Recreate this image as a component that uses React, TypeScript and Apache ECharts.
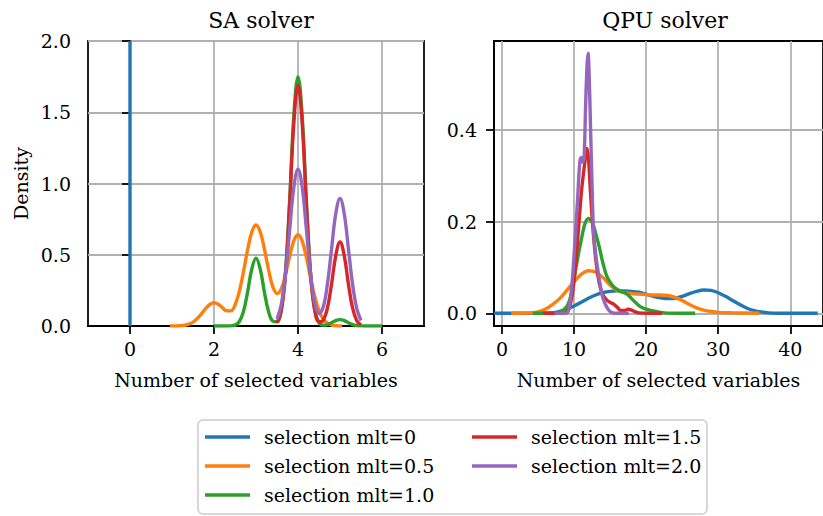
import React, { useEffect, useRef } from "react";
import * as echarts from "echarts";

const FONT = '"DejaVu Serif", serif';
const BASE = 19;

const seriesNames = [
  "selection mlt=0",
  "selection mlt=0.5",
  "selection mlt=1.0",
  "selection mlt=1.5",
  "selection mlt=2.0",
];
const colors = ["#1f77b4", "#ff7f0e", "#2ca02c", "#d62728", "#9467bd"];

const saXTicks = [0, 2, 4, 6];
const qpuXTicks = [0, 10, 20, 30, 40];
const qpuYTicks = [0, 0.2, 0.4];

// SA solver densities
const saMlt0: [number, number][] = [[0, 0], [0, 2.0]];
const saMlt05: [number, number][] = [
  [0.95, 0], [1.2, 0.002], [1.3, 0.005], [1.4, 0.013], [1.5, 0.027], [1.6, 0.052], [1.7, 0.085],
  [1.8, 0.122], [1.9, 0.151], [2.0, 0.163], [2.1, 0.153], [2.2, 0.129], [2.3, 0.107], [2.4, 0.106],
  [2.5, 0.147], [2.6, 0.239], [2.7, 0.378], [2.8, 0.534], [2.9, 0.659], [3.0, 0.709], [3.1, 0.661],
  [3.2, 0.539], [3.3, 0.393], [3.4, 0.276], [3.5, 0.228], [3.6, 0.259], [3.7, 0.359], [3.8, 0.489],
  [3.9, 0.598], [4.0, 0.64], [4.1, 0.596], [4.2, 0.481], [4.3, 0.337], [4.4, 0.205], [4.5, 0.108],
  [4.6, 0.049], [4.7, 0.02], [4.8, 0.007], [4.9, 0.002], [5.05, 0],
];
const saMlt10: [number, number][] = [
  [2.0, 0], [2.3, 0], [2.4, 0.001], [2.5, 0.006], [2.6, 0.03], [2.7, 0.1], [2.8, 0.238], [2.9, 0.4],
  [3.0, 0.475], [3.1, 0.4], [3.2, 0.238], [3.3, 0.1], [3.4, 0.034], [3.5, 0.029], [3.6, 0.111],
  [3.7, 0.369], [3.8, 0.875], [3.9, 1.472], [4.0, 1.75], [4.1, 1.472], [4.2, 0.875], [4.3, 0.369],
  [4.4, 0.11], [4.5, 0.024], [4.6, 0.006], [4.7, 0.01], [4.8, 0.023], [4.9, 0.038], [5.0, 0.045],
  [5.1, 0.038], [5.2, 0.023], [5.3, 0.01], [5.4, 0.003], [5.5, 0.001], [5.6, 0], [6.0, 0],
];
const saMlt15: [number, number][] = [
  [3.5, 0.022], [3.6, 0.106], [3.7, 0.357], [3.8, 0.845], [3.9, 1.421], [4.0, 1.69], [4.1, 1.421],
  [4.2, 0.845], [4.3, 0.357], [4.4, 0.107], [4.5, 0.03], [4.6, 0.04], [4.7, 0.125], [4.8, 0.295],
  [4.9, 0.496], [5.0, 0.59], [5.1, 0.496], [5.2, 0.295], [5.3, 0.125], [5.4, 0.037], [5.5, 0.008],
];
const saMlt20: [number, number][] = [
  [3.5, 0.048], [3.6, 0.149], [3.7, 0.358], [3.8, 0.668], [3.9, 0.971], [4.0, 1.1], [4.1, 0.973],
  [4.2, 0.678], [4.3, 0.36], [4.4, 0.159], [4.5, 0.087], [4.6, 0.133], [4.7, 0.293], [4.8, 0.543],
  [4.9, 0.79], [5.0, 0.895], [5.1, 0.79], [5.2, 0.543], [5.3, 0.291], [5.4, 0.121], [5.5, 0.039],
];

// QPU solver densities
const qpuMlt0: [number, number][] = [
  [-1.1, 0], [5, 0], [7, 0.001], [8, 0.004], [9, 0.009], [10, 0.016], [11, 0.024], [12, 0.033],
  [13, 0.04], [14, 0.045], [15, 0.048], [16, 0.049], [17, 0.049], [18, 0.048], [19, 0.046],
  [20, 0.042], [21, 0.037], [22, 0.034], [23, 0.032], [24, 0.033], [25, 0.037], [26, 0.043],
  [27, 0.048], [28, 0.051], [29, 0.05], [30, 0.045], [31, 0.037], [32, 0.028], [33, 0.019],
  [34, 0.011], [35, 0.006], [36, 0.003], [37, 0.001], [38, 0], [43.8, 0],
];
const qpuMlt05: [number, number][] = [
  [1.3, 0], [4, 0.001], [5, 0.003], [6, 0.009], [7, 0.019], [8, 0.032], [9, 0.05], [10, 0.069],
  [11, 0.085], [12, 0.093], [13, 0.09], [14, 0.078], [15, 0.062], [16, 0.05], [17, 0.045],
  [18, 0.043], [19, 0.042], [20, 0.041], [21, 0.04], [22, 0.04], [23, 0.039], [24, 0.035],
  [25, 0.028], [26, 0.019], [27, 0.012], [28, 0.007], [29, 0.004], [30, 0.002], [32, 0.001], [35.7, 0],
];
const qpuMlt10: [number, number][] = [
  [4.3, 0], [7, 0], [8, 0.002], [9, 0.015], [9.5, 0.035], [10, 0.075], [10.5, 0.12], [11, 0.16],
  [11.5, 0.195], [12, 0.207], [12.5, 0.2], [13, 0.175], [13.5, 0.145], [14, 0.11], [14.5, 0.083],
  [15, 0.068], [15.5, 0.058], [16, 0.052], [16.5, 0.048], [17, 0.045], [17.5, 0.04], [18, 0.032],
  [18.5, 0.024], [19, 0.017], [19.5, 0.012], [20, 0.009], [21, 0.005], [22, 0.002], [23, 0.0005], [26.8, 0],
];
const qpuMlt15: [number, number][] = [
  [5.7, 0], [8.5, 0], [9, 0.003], [9.5, 0.02], [10, 0.07], [10.5, 0.16], [11, 0.26], [11.5, 0.33],
  [11.8, 0.36], [12, 0.34], [12.3, 0.26], [12.6, 0.19], [13, 0.12], [13.5, 0.065], [14, 0.04],
  [14.5, 0.03], [15, 0.024], [15.5, 0.02], [16, 0.013], [16.5, 0.006], [17, 0.006], [17.5, 0.009],
  [18, 0.007], [18.5, 0.003], [19, 0.001], [20, 0], [22.2, 0],
];
const qpuMlt20: [number, number][] = [
  [7.3, 0], [8.9, 0], [9.3, 0.01], [9.7, 0.06], [10.1, 0.15], [10.5, 0.25], [10.8, 0.33], [11.0, 0.34],
  [11.2, 0.33], [11.4, 0.34], [11.6, 0.45], [11.8, 0.54], [11.95, 0.568], [12.1, 0.52], [12.3, 0.4],
  [12.5, 0.28], [12.7, 0.18], [13.0, 0.13], [13.3, 0.095], [13.6, 0.065], [13.9, 0.04], [14.2, 0.025],
  [14.6, 0.012], [15.0, 0.004], [15.4, 0.001], [16, 0], [17.6, 0],
];

const saData = [saMlt0, saMlt05, saMlt10, saMlt15, saMlt20];
const qpuData = [qpuMlt0, qpuMlt05, qpuMlt10, qpuMlt15, qpuMlt20];

const LW = 1.76;
const textStyle = { fontFamily: FONT, fontSize: BASE, color: "#000" };

function xAxisCfg(grid: number, min: number, max: number, ticks: number[], name: string) {
  return {
    type: "value",
    gridIndex: grid,
    min,
    max,
    name,
    nameLocation: "middle",
    nameGap: 44,
    nameTextStyle: { ...textStyle },
    axisLine: { show: true, onZero: false, lineStyle: { color: "#000", width: LW } },
    axisTick: { show: true, customValues: ticks, length: 8, lineStyle: { color: "#000", width: LW } },
    axisLabel: { customValues: ticks, margin: 13, ...textStyle, formatter: (v: number) => String(v) },
    splitLine: { show: true, lineStyle: { color: "#b0b0b0", width: LW } },
  };
}

export default function App() {
  const ref = useRef<HTMLDivElement>(null);
  useEffect(() => {
    if (!ref.current) return;
    const chart = echarts.init(ref.current, undefined, { renderer: "svg" });
    const series: any[] = [];
    saData.forEach((d, i) => {
      series.push({
        type: "line",
        name: seriesNames[i],
        xAxisIndex: 0,
        yAxisIndex: 0,
        data: d,
        color: colors[i],
        showSymbol: false,
        symbol: "none",
        smooth: 0.4,
        lineStyle: { color: colors[i], width: 3.4 },
      });
    });
    qpuData.forEach((d, i) => {
      series.push({
        type: "line",
        name: seriesNames[i],
        xAxisIndex: 1,
        yAxisIndex: 1,
        data: d,
        color: colors[i],
        showSymbol: false,
        symbol: "none",
        smooth: 0.3,
        lineStyle: { color: colors[i], width: 3.4 },
      });
    });
    chart.setOption({
      animation: false,
      backgroundColor: "#fff",
      title: [
        { text: "SA solver", left: 256, top: 4, textAlign: "center", textStyle: { ...textStyle, fontSize: 22, fontWeight: "normal" } },
        { text: "QPU solver", left: 660, top: 4, textAlign: "center", textStyle: { ...textStyle, fontSize: 22, fontWeight: "normal" } },
      ],
      grid: [
        { left: 88, top: 41, width: 336, height: 285, show: true, borderColor: "#000", borderWidth: LW, containLabel: false },
        { left: 494, top: 41, width: 332, height: 285, show: true, borderColor: "#000", borderWidth: LW, containLabel: false },
      ],
      xAxis: [
        xAxisCfg(0, -1, 7, saXTicks, "Number of selected variables"),
        xAxisCfg(1, -1.1, 44.536, qpuXTicks, "Number of selected variables"),
      ],
      yAxis: [
        {
          type: "value",
          gridIndex: 0,
          min: 0,
          max: 2,
          interval: 0.5,
          name: "Density",
          nameLocation: "middle",
          nameGap: 58,
          nameTextStyle: { ...textStyle },
          axisLine: { show: true, lineStyle: { color: "#000", width: LW } },
          axisTick: { show: true, length: 8, lineStyle: { color: "#000", width: LW } },
          axisLabel: { margin: 17, ...textStyle, formatter: (v: number) => v.toFixed(1) },
          splitLine: { show: true, lineStyle: { color: "#b0b0b0", width: LW } },
        },
        {
          type: "value",
          gridIndex: 1,
          min: -0.0277,
          max: 0.5945,
          axisLine: { show: true, onZero: false, lineStyle: { color: "#000", width: LW } },
          axisTick: { show: true, customValues: qpuYTicks, length: 8, lineStyle: { color: "#000", width: LW } },
          axisLabel: { customValues: qpuYTicks, margin: 17, ...textStyle, formatter: (v: number) => v.toFixed(1) },
          splitLine: { show: true, lineStyle: { color: "#b0b0b0", width: LW } },
        },
      ],
      legend: [
        {
          data: seriesNames.slice(0, 3),
          orient: "vertical",
          left: 205,
          top: 427,
          padding: 0,
          icon: "rect",
          itemWidth: 45,
          itemHeight: 3.5,
          itemGap: 9,
          selectedMode: false,
          textStyle: { ...textStyle, lineHeight: 20, padding: [0, 0, 0, 9] },
        },
        {
          data: seriesNames.slice(3),
          orient: "vertical",
          left: 472,
          top: 427,
          padding: 0,
          icon: "rect",
          itemWidth: 45,
          itemHeight: 3.5,
          itemGap: 9,
          selectedMode: false,
          textStyle: { ...textStyle, lineHeight: 20, padding: [0, 0, 0, 9] },
        },
      ],
      graphic: [
        {
          type: "rect",
          z: -1,
          shape: { x: 198, y: 420, width: 509, height: 94, r: 5 },
          style: { fill: "#fff", stroke: "#cccccc", lineWidth: 1.5 },
        },
      ],
      series,
    });
    return () => chart.dispose();
  }, []);
  return <div ref={ref} style={{ position: "fixed", left: 0, top: 0, width: 823, height: 516 }} />;
}
